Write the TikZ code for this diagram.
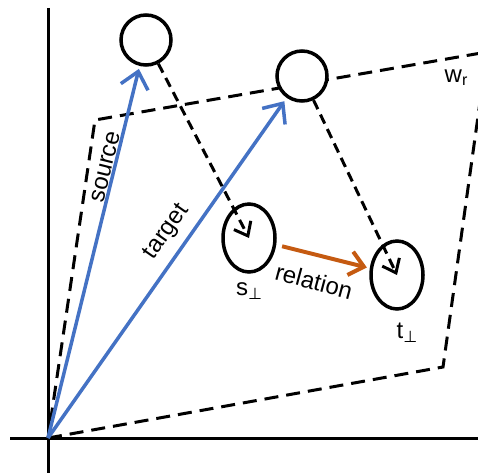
\documentclass[tikz,border=0pt]{standalone}
\usepackage{fontspec}
\setmainfont{Liberation Sans}
\newfontfamily\dejavu{DejaVu Sans}
\usetikzlibrary{arrows.meta,shapes.geometric}
\definecolor{vblue}{HTML}{4472C4}
\definecolor{vorange}{HTML}{C55A11}
\newcommand{\perpsub}{\raisebox{-4pt}{\fontsize{16}{16}\selectfont\dejavu ⊥}}
\begin{document}
\begin{tikzpicture}[x=1pt,y=-1pt,
  axis/.style={line width=3pt},
  plane/.style={line width=3pt, dash pattern=on 14pt off 8pt},
  vec/.style={vblue, line width=3.5pt, -{Straight Barb[length=16pt,width=28pt]}},
  proj/.style={line width=3pt, dash pattern=on 10pt off 6pt, -{Straight Barb[length=12pt,width=19pt]}},
  rel/.style={vorange, line width=4pt, -{Straight Barb[length=14pt,width=24pt]}},
  pt/.style={draw, line width=3.5pt, circle, minimum size=50pt, inner sep=0pt, fill=white},
  ppt/.style={draw, line width=3.5pt, ellipse, minimum width=52pt, minimum height=68pt, inner sep=0pt, fill=white},
  lbl/.style={font=\fontsize{24}{26}\selectfont, inner sep=0pt}
]
\useasboundingbox (0,0) rectangle (478,473);
\coordinate (O) at (48,438);
\coordinate (P1) at (443,367);
\coordinate (P2) at (487,52);
\coordinate (P3) at (95,120);
\begin{scope}
\clip (0,0) rectangle (478,473);
\draw[plane] (O) -- (P1) -- (P2) -- (P3) -- cycle;
\end{scope}
\coordinate (xa) at (10,438);
\coordinate (xb) at (478,438);
\coordinate (ya) at (48,8);
\coordinate (yb) at (48,473);
\draw[axis] (xa) -- (xb);
\draw[axis] (ya) -- (yb);
\node[pt] (src) at (146,40) {};
\node[pt] (tgt) at (302,76) {};
\node[ppt] (sp) at (249,238) {};
\node[ppt] (tp) at (397,275) {};
\draw[vec, shorten >=3pt] (O) -- (src);
\draw[vec, shorten >=4pt] (O) -- (tgt);
\draw[proj] (src) -- (sp.center);
\draw[proj] (tgt) -- (tp.center);
\draw[rel, shorten <=6pt, shorten >=3pt] (sp) -- (tp);
\node[lbl, rotate=76] (ls) at (106,167) {source};
\node[lbl, rotate=55] (lt) at (167,232) {target};
\node[lbl, rotate=-15] (lr) at (314,281) {relation};
\node[lbl] (lsp) at (249,291) {s\perpsub};
\node[lbl] (ltp) at (407,333) {t\perpsub};
\node[lbl] (lw) at (456,78) {w\raisebox{-3pt}{\fontsize{16}{16}\selectfont r}};
\end{tikzpicture}
\end{document}
